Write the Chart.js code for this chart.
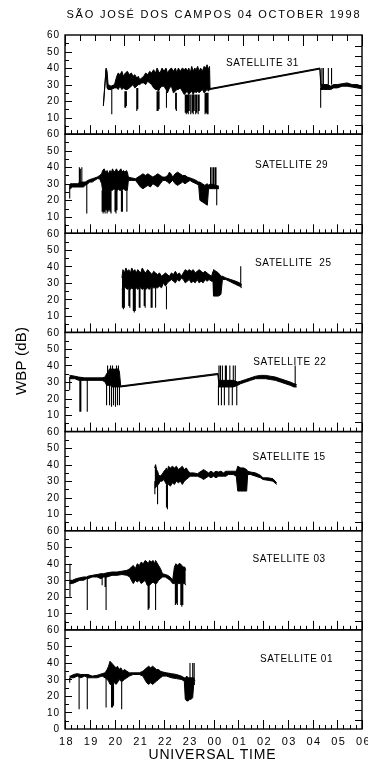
<!DOCTYPE html>
<html><head><meta charset="utf-8">
<script src="https://cdn.jsdelivr.net/npm/chart.js@4.4.1/dist/chart.umd.min.js"></script>
<style>html,body{margin:0;padding:0;background:#fff;}#wrap{width:368px;height:763px;}</style>
</head><body><div id="wrap"><canvas id="c" width="368" height="763"></canvas></div>
<script>
const titleText = 'SÃO JOSÉ DOS CAMPOS 04 OCTOBER 1998';
const xTitle = 'UNIVERSAL TIME';
const yTitle = 'WBP (dB)';
const hourTicks = [18,19,20,21,22,23,24,25,26,27,28,29,30];
const yTickValues = [0,10,20,30,40,50,60];
const satNames = ['SATELLITE 31','SATELLITE 29','SATELLITE  25','SATELLITE 22','SATELLITE 15','SATELLITE 03','SATELLITE 01'];
// label anchor [UT hour, dB] (left edge, vertical middle)
const satLabelAt = [[24.5,43.1],[25.68,41.2],[25.68,42.1],[25.61,42.2],[25.58,44.6],[25.58,42.5],[25.88,42.1]];

// band rows: [UT hour (18..30), lower envelope dB, upper envelope dB]
const sat31 = [[19.55,17,17.8],[19.66,39,40],[19.70,28,38],[19.74,27,30],[19.86,27,29],[20.00,28,30],[20.09,28,35],[20.15,27,37],[20.22,29,36],[20.30,27,38],[20.36,28,35],[20.44,27,37],[20.52,27,38],[20.60,28,36],[20.68,29,37],[20.75,30,35],[20.82,28,36],[20.90,29,34],[20.96,30,35],[21.02,30,33],[21.10,31,34],[21.18,31,35],[21.26,30,37],[21.34,32,36],[21.42,31,38],[21.50,30,37],[21.58,28,39],[21.66,27,37],[21.72,27,40],[21.78,26,38],[21.84,28,37],[21.92,29,40],[22.00,29,38],[22.08,27,40],[22.14,25,37],[22.22,28,39],[22.30,29,40],[22.38,25,38],[22.46,26,40],[22.52,27,37],[22.58,27,40],[22.66,28,38],[22.74,26,40],[22.82,24,39],[22.88,25,40],[22.94,26,38],[23.00,24,40],[23.06,25,37],[23.12,26,41],[23.18,24,38],[23.24,26,40],[23.30,25,39],[23.36,26,41],[23.42,25,38],[23.48,26,40],[23.55,27,38],[23.62,25,41],[23.68,26,40],[23.74,27,42],[23.80,26,39],[23.84,27,41],[23.86,27,27.6],[28.30,39.4,40],[28.34,27,30],[28.44,27,30],[28.62,27,30],[28.74,27,29],[28.85,28,30],[29.00,28,30],[29.2,29,30.5],[29.4,29,31],[29.6,28.5,30],[29.8,28,30],[30.0,27.5,29]];
const sat29 = [[18.18,27,29],[18.22,27,30],[18.3,28,30],[18.5,28,30],[18.62,28,31],[18.74,28,31],[18.82,29,31],[18.92,30,32],[19.0,31,32.5],[19.1,31,33],[19.2,32,33.5],[19.3,33,34],[19.4,33,35],[19.48,30,36],[19.52,26,38],[19.58,25,39],[19.64,26,37],[19.70,25,38],[19.76,26,36],[19.82,25,38],[19.88,26,37],[19.92,26,39],[19.98,27,37],[20.04,26,38],[20.08,25,39],[20.14,27,37],[20.20,26,38],[20.26,26,39],[20.30,26,37],[20.36,27,38],[20.42,26,37],[20.48,26,38],[20.52,26,37],[20.56,32,34],[20.7,32,33.5],[20.85,32,33],[20.95,30,34],[21.05,28,35],[21.15,27,36],[21.25,28,35],[21.35,29,36],[21.45,28,35],[21.55,30,34],[21.65,29,35],[21.75,28,36],[21.85,30,35],[21.95,32,34],[22.05,32,34],[22.15,31,35],[22.22,30,37],[22.28,31,36],[22.35,32,34],[22.45,30,36],[22.55,29,37],[22.65,30,36],[22.75,31,35],[22.85,30,35],[22.95,31,34],[23.05,32,33.5],[23.15,31,33],[23.3,30,32],[23.40,29,31],[23.45,20,31],[23.55,19,30],[23.65,18,29],[23.75,17,30],[23.80,27,29],[23.86,27,30],[24.22,27,28.5]];
const sat25 = [[20.30,26,33],[20.34,26,38],[20.40,27,36],[20.46,27,39],[20.52,26,37],[20.58,27,38],[20.64,26,36],[20.70,27,39],[20.76,26,37],[20.82,26,38],[20.88,27,36],[20.94,26,38],[21.00,27,37],[21.06,27,36],[21.12,26,39],[21.20,27,37],[21.26,26,36],[21.34,27,38],[21.40,26,37],[21.46,27,36],[21.52,27,35],[21.58,27,37],[21.66,27,36],[21.74,27,35],[21.82,28,36],[21.90,27,34],[21.98,30,35],[22.06,28,36],[22.14,30,35],[22.22,31,34],[22.30,32,36],[22.38,31,35],[22.46,30,37],[22.54,32,35],[22.62,31,36],[22.70,33,34],[22.78,32,36],[22.86,30,38],[22.94,31,37],[23.02,32,38],[23.10,30,37],[23.18,31,38],[23.26,30,36],[23.34,32,37],[23.42,30,38],[23.50,31,37],[23.58,30,36],[23.66,32,37],[23.74,31,36],[23.82,32,35],[23.92,31,34],[23.98,31,37],[24.00,22,38],[24.10,22,37],[24.20,22,36],[24.30,23,34],[24.36,32,34],[24.5,32,33],[24.7,30.5,32],[24.9,29,31],[25.05,28,30],[25.14,27,29]];
const sat22 = [[18.18,32,34],[18.22,32,34],[18.40,32,33.5],[18.55,31,33],[18.80,31,32.5],[19.5,31,32.5],[19.62,30,33],[19.68,28,35],[19.74,28,36],[19.80,28,38],[19.84,28,34],[19.88,27,38],[19.92,27,35],[19.96,27,38],[20.00,27,34],[20.04,27,38],[20.08,27,36],[20.12,27,38],[20.16,27,38],[20.20,27,36],[20.25,27,27.6],[24.18,34.5,35.2],[24.22,27,31],[24.5,27,31],[24.8,27,31],[24.98,28,30],[25.1,29,30.5],[25.3,30,31.5],[25.5,31,32.5],[25.7,32,33.5],[25.9,32,34],[26.1,32,34],[26.3,31.5,33.5],[26.5,31,33],[26.7,30,32],[26.9,29,31],[27.1,28,30],[27.25,27,29],[27.36,27,28.5]];
const sat15 = [[21.62,26,38],[21.66,26,40],[21.70,27,37],[21.74,28,36],[21.78,28,34],[21.84,30,33],[21.92,30,34],[22.00,31,36],[22.06,29,37],[22.10,28,38],[22.14,28,36],[22.18,28,39],[22.26,27,38],[22.34,29,39],[22.42,28,38],[22.50,30,39],[22.58,29,37],[22.66,30,38],[22.74,28,39],[22.82,30,37],[22.90,31,38],[22.98,32,36],[23.06,33,35],[23.2,33,35],[23.35,33,34.5],[23.5,32,36],[23.6,31,37],[23.7,32,36],[23.8,33,35],[23.9,32,36],[24.0,33,35],[24.1,32,36],[24.2,33,35.5],[24.3,33,36],[24.4,33,35],[24.5,33,36],[24.6,34,36],[24.7,34,36],[24.8,34,36],[24.92,33,36],[24.98,24,39],[25.10,24,38],[25.22,24,38],[25.34,24,37],[25.38,34,36],[25.5,34,35.5],[25.7,33,35],[25.9,32,33.5],[26.0,31,32],[26.2,30.5,32],[26.4,30,31.5],[26.55,28,29]];
const sat03 = [[18.18,28,30],[18.3,28,30],[18.45,29,31],[18.6,30,31.5],[18.75,30,32],[18.87,31,32],[18.93,31,32.5],[19.1,32,33],[19.3,32,33.5],[19.45,31,34],[19.56,32,34],[19.70,32,34.5],[19.9,33,35],[20.1,33,35],[20.3,33.5,35.5],[20.5,33,36],[20.62,32,37],[20.68,30,38],[20.76,28,39],[20.84,30,37],[20.92,29,40],[21.00,30,39],[21.08,28,41],[21.16,29,40],[21.24,30,42],[21.32,27,41],[21.36,27,40],[21.42,27,42],[21.48,28,41],[21.56,29,42],[21.62,28,40],[21.66,28,42],[21.70,28,41],[21.78,30,39],[21.86,31,37],[21.94,32,34],[22.05,32,33.5],[22.15,31,33],[22.25,30,32],[22.35,28,30],[22.42,28,38],[22.48,28,40],[22.54,28,39],[22.60,28,40],[22.66,28,40],[22.72,28,39],[22.78,28,38],[22.84,28,38],[22.88,27,36]];
const sat01 = [[18.18,30,32],[18.22,31,32],[18.35,31,33],[18.5,32,33.5],[18.64,31,33],[18.8,32,33],[18.93,31,33],[19.1,31,32],[19.3,31,32.5],[19.5,32,33.5],[19.62,31,34],[19.70,30,36],[19.76,29,38],[19.82,27,41],[19.88,27,40],[19.94,28,39],[20.00,28,38],[20.06,27,37],[20.12,28,38],[20.18,30,36],[20.26,29,37],[20.33,29,35],[20.40,30,36],[20.50,31,35],[20.60,32,34],[20.75,33,34],[21.0,33,34],[21.15,32,35],[21.22,30,36],[21.30,28,37],[21.38,27,38],[21.46,28,37],[21.54,27,38],[21.62,28,37],[21.70,29,36],[21.78,30,36],[21.86,31,35],[21.95,32,34.5],[22.1,32,34],[22.3,31,33.5],[22.5,30.5,33],[22.7,30,32],[22.82,29,31],[22.86,18,31],[22.92,17,32],[22.98,17,31],[23.04,18,31],[23.10,18,31],[23.16,19,31],[23.20,27,31],[23.25,27,29]];

// spikes: [UT hour, from dB, to dB] (single-sample excursions)
const spikes31 = [[19.89,27,12],[20.42,26,16],[20.45,26,16],[20.48,26,17],[20.90,28,14],[20.94,28,15],[21.72,26,14],[21.76,26,14],[21.80,26,15],[22.10,26,16],[22.47,25,15],[22.50,25,14],[22.86,24,13],[22.90,24,12],[22.94,24,13],[22.98,24,12],[23.02,24,14],[23.08,24,12],[23.14,24,13],[23.18,24,12],[23.22,24,14],[23.28,24,12],[23.32,24,13],[23.38,24,12],[23.42,24,14],[23.66,25,12],[23.70,25,13],[23.74,25,12],[23.78,25,12],[28.33,28,16],[28.38,30,40],[28.44,30,40],[28.64,30,40],[28.77,30,40]];
const spikes29 = [[18.19,29,21],[18.58,30,40],[18.62,30,39],[18.68,30,40],[18.88,31,12],[19.50,26,13],[19.54,26,12],[19.58,26,13],[19.62,26,12],[19.66,26,14],[19.70,26,12],[19.74,26,13],[19.78,26,14],[19.82,26,13],[19.86,26,12],[20.02,26,13],[20.06,26,12],[20.10,26,14],[20.28,26,13],[20.32,26,13],[20.50,26,13],[23.88,29,40],[23.94,29,40],[24.00,29,40],[24.06,29,40],[24.10,29,40],[24.13,28,17]];
const spikes25 = [[20.32,27,15],[20.36,27,14],[20.40,27,15],[20.58,27,16],[20.62,27,15],[20.76,27,13],[20.80,27,12],[20.84,27,13],[21.00,27,15],[21.03,27,15],[21.20,27,16],[21.24,27,15],[21.48,27,15],[21.52,27,15],[21.66,27,15],[22.10,28,14],[25.10,28,40]];
const spikes22 = [[18.19,33,25],[18.60,31,12],[18.64,31,12],[18.90,31,12],[19.68,30,16],[19.72,30,40],[19.80,30,16],[19.84,30,40],[19.88,30,15],[19.92,30,40],[19.96,30,16],[20.00,30,38],[20.04,30,15],[20.08,30,40],[20.12,30,16],[20.16,30,40],[20.20,30,16],[24.20,28,16],[24.22,28,40],[24.28,28,40],[24.32,28,16],[24.36,28,40],[24.44,28,16],[24.48,28,40],[24.52,28,40],[24.62,28,16],[24.66,28,40],[24.76,28,16],[24.80,28,40],[24.88,28,40],[24.94,28,16],[27.3,28,40]];
const spikes15 = [[21.63,30,22],[21.74,28,16],[22.10,28,14],[22.14,28,13]];
const spikes03 = [[18.20,30,20],[18.20,30,40],[18.90,31,12],[19.50,32,27],[19.62,32,26],[19.66,32,12],[21.36,28,12],[21.40,28,13],[21.66,28,12],[22.46,28,15],[22.50,28,16],[22.54,28,15],[22.68,28,15],[22.72,28,14],[22.76,28,15]];
const spikes01 = [[18.19,31,28],[18.57,32,12],[18.90,32,12],[19.66,31,13],[19.88,28,13],[19.92,28,13],[19.96,28,14],[20.29,29,12],[23.05,30,40],[23.16,30,40],[23.22,30,40]];

const satRows = [sat31, sat29, sat25, sat22, sat15, sat03, sat01];
const satSpikes = [spikes31, spikes29, spikes25, spikes22, spikes15, spikes03, spikes01];

const FONT = "'Liberation Sans', Arial, sans-serif";
const datasets = [];
const scales = {
  x: {
    type: 'linear', min: 18, max: 30, position: 'bottom',
    ticks: { display: false, stepSize: 1 },
    grid: { display: false, drawTicks: false }, border: { display: false },
    afterFit(s) { s.height = 34; s.paddingLeft = 0; s.paddingRight = 0; }
  }
};
satRows.forEach((rows, p) => {
  const id = 'y' + p;
  scales[id] = {
    type: 'linear', position: 'left', stack: 'panels', stackWeight: 1, weight: 10 - p,
    min: 0, max: 60,
    ticks: { display: false, stepSize: 10 },
    grid: { display: false, drawTicks: false }, border: { display: false },
    afterFit(s) { s.width = 65; s.paddingTop = 0; s.paddingBottom = 0; }
  };
  datasets.push({
    data: rows.map(r => ({ x: r[0], y: r[2] })), yAxisID: id,
    borderColor: '#000', backgroundColor: '#000', borderWidth: 1,
    pointRadius: 0, tension: 0, fill: false
  });
  datasets.push({
    data: rows.map(r => ({ x: r[0], y: r[1] })), yAxisID: id,
    borderColor: '#000', backgroundColor: '#000', borderWidth: 1,
    pointRadius: 0, tension: 0, fill: '-1'
  });
  const sp = [];
  satSpikes[p].forEach(s => { sp.push({ x: s[0], y: s[1] }, { x: s[0], y: s[2] }, { x: s[0], y: null }); });
  datasets.push({
    data: sp, yAxisID: id, borderColor: '#000', borderWidth: 1.1,
    pointRadius: 0, tension: 0, fill: false, spanGaps: false
  });
});

function spaced(ctx, text, cx, cy, size, width) {
  ctx.font = size + 'px ' + FONT;
  ctx.letterSpacing = '0px';
  const w0 = ctx.measureText(text).width;
  const n = text.length;
  const sp = width ? (width - w0) / (n - 1) : 0;
  ctx.letterSpacing = sp + 'px';
  ctx.textAlign = 'left';
  ctx.textBaseline = 'middle';
  ctx.fillText(text, cx - (w0 + sp * (n - 1)) / 2, cy);
  ctx.letterSpacing = '0px';
}

const framePlugin = {
  id: 'frame',
  afterDraw(chart) {
    const ctx = chart.ctx, xs = chart.scales.x, ca = chart.chartArea;
    ctx.save();
    ctx.strokeStyle = '#000'; ctx.fillStyle = '#000';
    satRows.forEach((rows, p) => {
      const ys = chart.scales['y' + p];
      const top = ys.top, bot = ys.bottom;
      ctx.lineWidth = 1.4;
      ctx.strokeRect(ca.left, top, ca.right - ca.left, bot - top);
      ctx.lineWidth = 1;
      ctx.beginPath();
      for (let v = 5; v < 60; v += 5) {
        const y = Math.round(ys.getPixelForValue(v)) + 0.5;
        const len = v % 10 === 0 ? 7 : 4;
        ctx.moveTo(ca.left, y); ctx.lineTo(ca.left + len, y);
      }
      for (let k = 1; k < 10; k++) {
        const y = Math.round(ys.getPixelForValue(k * 6 - 0.5)) + 0.5;
        ctx.moveTo(ca.right, y); ctx.lineTo(ca.right - 7, y);
      }
      for (let q = 0; q <= 48; q++) {
        const h = 18 + q * 0.25;
        const x = Math.round(xs.getPixelForValue(h)) + 0.5;
        const len = q % 4 === 0 ? 9 : 4;
        ctx.moveTo(x, bot); ctx.lineTo(x, bot - len);
      }
      if (p === 0) {
        for (let q = 0; q <= 20; q++) {
          const h = 18 + q * 0.6;
          const x = Math.round(xs.getPixelForValue(h)) + 0.5;
          const len = q % 4 === 0 ? 11 : 6;
          ctx.moveTo(x, top); ctx.lineTo(x, top + len);
        }
      }
      ctx.stroke();
      ctx.font = '10px ' + FONT;
      ctx.letterSpacing = '1px';
      ctx.textAlign = 'right'; ctx.textBaseline = 'middle';
      yTickValues.forEach(v => {
        if (v === 0 && p < satRows.length - 1) return;
        ctx.fillText(String(v), ca.left - 5, ys.getPixelForValue(v) + 0.5);
      });
      ctx.letterSpacing = '0px';
      const at = satLabelAt[p];
      ctx.font = '10px ' + FONT;
      ctx.letterSpacing = '0.6px';
      ctx.textAlign = 'left';
      ctx.fillText(satNames[p], xs.getPixelForValue(at[0]), ys.getPixelForValue(at[1]));
      ctx.letterSpacing = '0px';
    });
    ctx.font = '11px ' + FONT;
    ctx.letterSpacing = '1.5px';
    ctx.textAlign = 'center'; ctx.textBaseline = 'middle';
    hourTicks.forEach(h => {
      const t = String(h % 24).padStart(2, '0');
      ctx.fillText(t, xs.getPixelForValue(h) + 1.5, ca.bottom + 13);
    });
    ctx.letterSpacing = '0px';
    spaced(ctx, titleText, 213, 15, 11, 293);
    spaced(ctx, xTitle, 212, 755, 14, 127);
    ctx.save();
    ctx.translate(22, (ca.top + ca.bottom) / 2 - 21);
    ctx.rotate(-Math.PI / 2);
    spaced(ctx, yTitle, 0, 0, 15, 68);
    ctx.restore();
    ctx.restore();
  }
};

new Chart(document.getElementById('c'), {
  type: 'line',
  data: { datasets },
  options: {
    responsive: false, animation: false, devicePixelRatio: 1,
    layout: { padding: { top: 35, right: 6, left: 0, bottom: 0 } },
    plugins: { legend: { display: false }, tooltip: { enabled: false }, title: { display: false } },
    scales
  },
  plugins: [framePlugin]
});
</script>
</body></html>
